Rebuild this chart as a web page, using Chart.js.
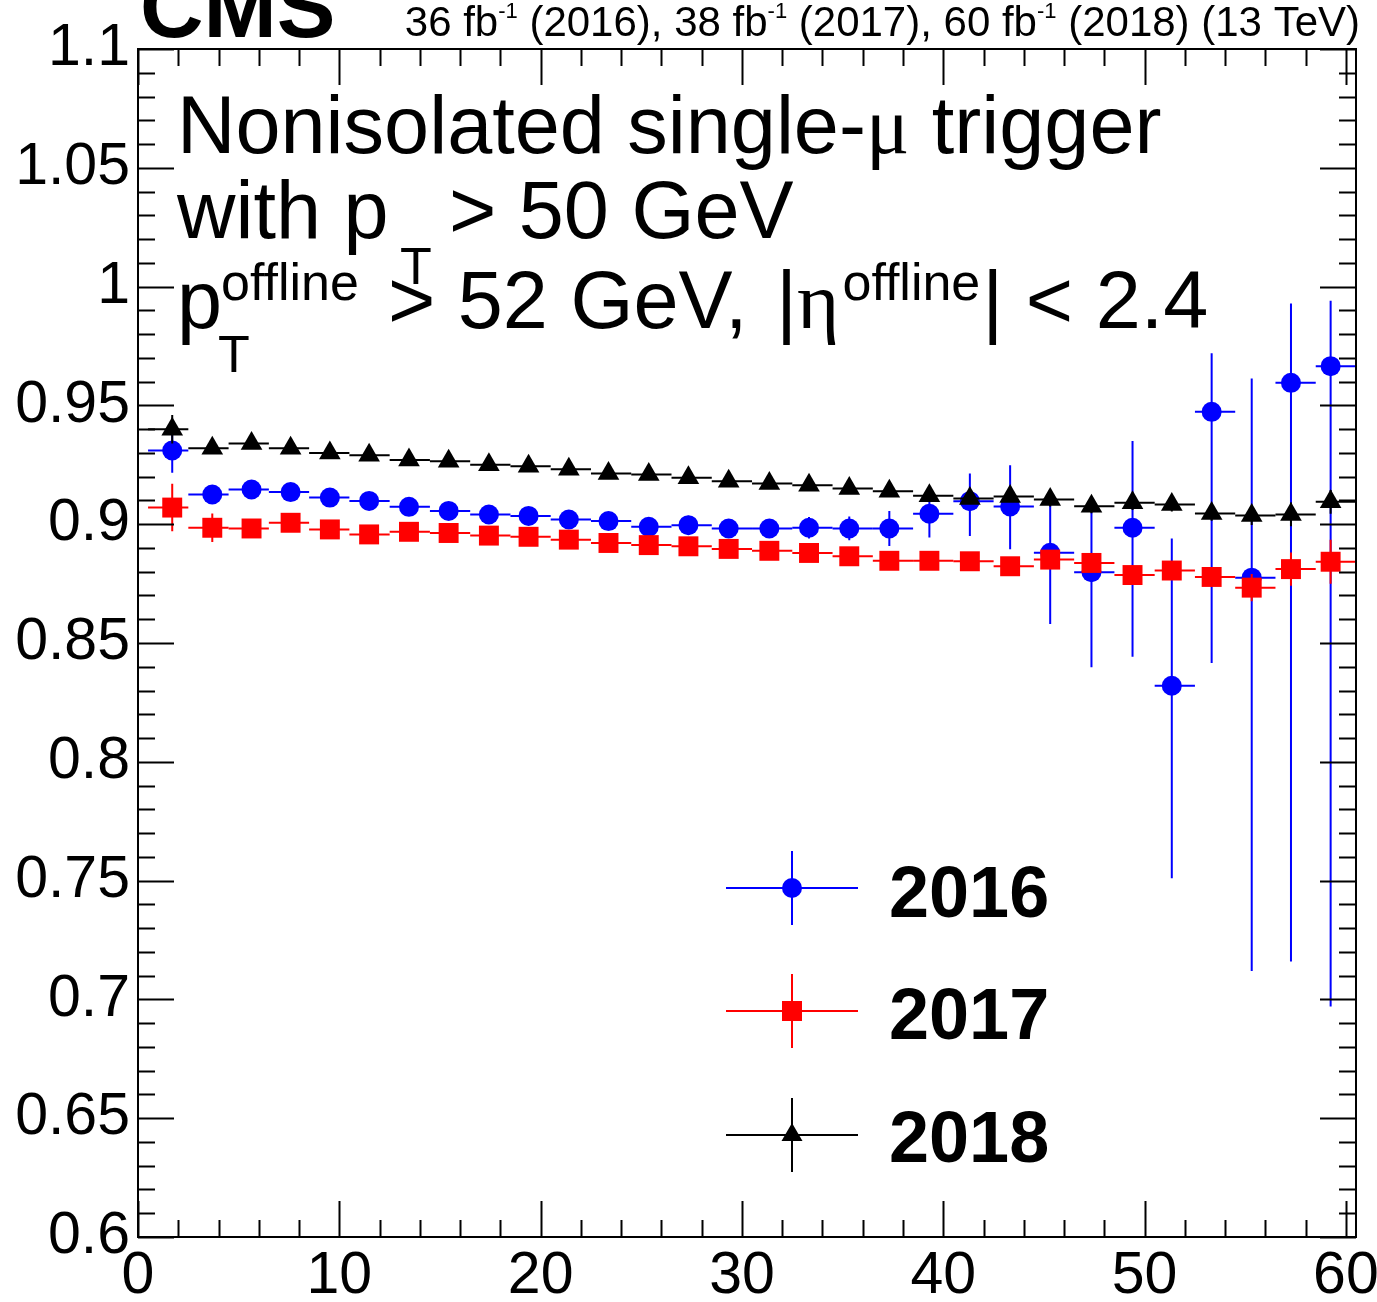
<!DOCTYPE html>
<html>
<head>
<meta charset="utf-8">
<script src="https://cdn.jsdelivr.net/npm/chart.js@4.4.1/dist/chart.umd.min.js"></script>
<style>
  html, body { margin: 0; padding: 0; background: #ffffff; }
  #wrap { width: 1377px; height: 1302px; }
</style>
</head>
<body>
<div id="wrap"><canvas id="chartCanvas" width="1377" height="1302"></canvas></div>
<script>
// bin edges (x axis) and the mean x of each bin, where the points sit
const binEdges = [0.5, 2.5, 4.5, 6.5, 8.5, 10.5, 12.5, 14.5, 16.5, 18.5, 20.5,
  22.5, 24.5, 26.5, 28.5, 30.5, 32.5, 34.5, 36.5, 38.5, 40.5,
  42.5, 44.5, 46.5, 48.5, 50.5, 52.5, 54.5, 56.5, 58.5, 60.5];
const binMeans = [1.7, 3.69, 5.64, 7.58, 9.53, 11.48, 13.46, 15.43, 17.43, 19.4,
  21.4, 23.37, 25.37, 27.34, 29.34, 31.36, 33.33, 35.33, 37.32, 39.31,
  41.32, 43.32, 45.31, 47.36, 49.4, 51.35, 53.33, 55.32, 57.27, 59.24];

// 2016
const eff2016 = [0.931, 0.9125, 0.9146, 0.9135, 0.9112, 0.9098, 0.9073, 0.9056, 0.9041, 0.9035,
  0.902, 0.9013, 0.8989, 0.8996, 0.8982, 0.8982, 0.8985, 0.8982, 0.8982, 0.9044,
  0.9097, 0.9075, 0.888, 0.8798, 0.8985, 0.832, 0.9473, 0.8775, 0.9595, 0.9665];
const err2016Up = [0.0093, 0.003, 0.003, 0.003, 0.003, 0.003, 0.003, 0.003, 0.003, 0.003,
  0.003, 0.0035, 0.0035, 0.004, 0.004, 0.004, 0.0045, 0.005, 0.0074, 0.01,
  0.0116, 0.0173, 0.022, 0.03, 0.0365, 0.062, 0.0247, 0.0838, 0.0334, 0.0275];
const err2016Down = [0.0093, 0.003, 0.003, 0.003, 0.003, 0.003, 0.003, 0.003, 0.003, 0.003,
  0.003, 0.0035, 0.0035, 0.004, 0.004, 0.004, 0.0045, 0.005, 0.0074, 0.01,
  0.0147, 0.018, 0.03, 0.04, 0.0543, 0.081, 0.1057, 0.1655, 0.2435, 0.2695];

// 2017
const eff2017 = [0.907, 0.8985, 0.8982, 0.9006, 0.8978, 0.8957, 0.8968, 0.8963, 0.8952, 0.8947,
  0.8935, 0.8921, 0.8912, 0.8907, 0.8896, 0.8888, 0.8879, 0.8865, 0.8846, 0.8846,
  0.8844, 0.8823, 0.8851, 0.8837, 0.8786, 0.8805, 0.8778, 0.8733, 0.8811, 0.8842];
const err2017 = [0.01, 0.006, 0.003, 0.003, 0.003, 0.003, 0.003, 0.003, 0.003, 0.003,
  0.003, 0.003, 0.003, 0.003, 0.003, 0.003, 0.003, 0.003, 0.003, 0.003,
  0.003, 0.003, 0.0035, 0.004, 0.004, 0.004, 0.004, 0.0057, 0.007, 0.0093];

// 2018
const eff2018 = [0.94, 0.932, 0.934, 0.932, 0.93, 0.929, 0.927, 0.9265, 0.925, 0.9244,
  0.9231, 0.9213, 0.9209, 0.9196, 0.9181, 0.9171, 0.9164, 0.915, 0.9139, 0.912,
  0.9108, 0.9117, 0.9104, 0.9076, 0.909, 0.9083, 0.9045, 0.9037, 0.9041, 0.9094];
const err2018 = [0.006, 0.002, 0.002, 0.002, 0.002, 0.002, 0.002, 0.002, 0.002, 0.002,
  0.002, 0.002, 0.002, 0.002, 0.002, 0.002, 0.002, 0.002, 0.002, 0.002,
  0.002, 0.002, 0.003, 0.003, 0.003, 0.003, 0.003, 0.004, 0.005, 0.005];

const FONT = '"Liberation Sans", Arial, Helvetica, sans-serif';
const SERIF = '"Liberation Serif", "Times New Roman", serif';

function makePoints(values, up, down) {
  return values.map((v, i) => ({
    x: binMeans[i],
    y: v,
    xLow: binEdges[i],
    xHigh: binEdges[i + 1],
    up: up[i],
    down: down[i],
  }));
}

// error bars drawn right before each dataset's markers
const errorBars = {
  id: "errorBars",
  beforeDatasetDraw(chart, args) {
    const ds = chart.data.datasets[args.index];
    const xs = chart.scales.x;
    const ys = chart.scales.y;
    const ctx = chart.ctx;
    ctx.save();
    ctx.strokeStyle = ds.errColor;
    ctx.lineWidth = 2;
    ds.data.forEach((p) => {
      const px = xs.getPixelForValue(p.x);
      const py = ys.getPixelForValue(p.y);
      ctx.beginPath();
      ctx.moveTo(xs.getPixelForValue(p.xLow), py);
      ctx.lineTo(xs.getPixelForValue(p.xHigh), py);
      ctx.moveTo(px, ys.getPixelForValue(p.y + p.up));
      ctx.lineTo(px, ys.getPixelForValue(p.y - p.down));
      ctx.stroke();
    });
    ctx.restore();
  },
};

// ROOT-like frame with ticks on all four sides, pointing inwards
const frameTicks = {
  id: "frameTicks",
  afterDatasetsDraw(chart) {
    const { ctx, chartArea: a } = chart;
    const xs = chart.scales.x;
    const ys = chart.scales.y;
    ctx.save();
    ctx.strokeStyle = "#000";
    ctx.lineWidth = 2;
    ctx.strokeRect(a.left, a.top, a.right - a.left, a.bottom - a.top);
    ctx.beginPath();
    for (let v = 0; v <= 60.001; v += 2) {
      const len = Math.abs(v % 10) < 0.001 ? 36 : 17;
      const px = Math.round(xs.getPixelForValue(v)) + 0.5;
      ctx.moveTo(px, a.bottom);
      ctx.lineTo(px, a.bottom - len);
      ctx.moveTo(px, a.top);
      ctx.lineTo(px, a.top + len);
    }
    for (let k = 60; k <= 110; k++) {
      const v = k / 100;
      const len = k % 5 === 0 ? 36 : 17;
      const py = Math.round(ys.getPixelForValue(v)) + 0.5;
      ctx.moveTo(a.left, py);
      ctx.lineTo(a.left + len, py);
      ctx.moveTo(a.right, py);
      ctx.lineTo(a.right - len, py);
    }
    ctx.stroke();
    ctx.restore();
  },
};

function drawRuns(ctx, runs) {
  let cx = 0;
  runs.forEach((r) => {
    ctx.font = `${r.bold ? "bold " : ""}${r.size}px ${r.family || FONT}`;
    const x = r.x !== undefined ? r.x : cx + (r.dx || 0);
    ctx.fillText(r.text, x, r.y);
    cx = x + ctx.measureText(r.text).width;
  });
}

function runsWidth(ctx, runs) {
  let w = 0;
  runs.forEach((r) => {
    ctx.font = `${r.bold ? "bold " : ""}${r.size}px ${r.family || FONT}`;
    w += ctx.measureText(r.text).width;
  });
  return w;
}

// texts and legend
const annotations = {
  id: "annotations",
  afterDraw(chart) {
    const ctx = chart.ctx;
    ctx.save();
    ctx.fillStyle = "#000";
    ctx.textBaseline = "alphabetic";
    ctx.textAlign = "left";

    // CMS label
    ctx.font = `bold 88px ${FONT}`;
    ctx.fillText("CMS", 140, 37);

    // luminosity label, right aligned
    const lumi = [
      { text: "36 fb", size: 42, y: 36 },
      { text: "-1", size: 22, y: 18 },
      { text: " (2016), 38 fb", size: 42, y: 36 },
      { text: "-1", size: 22, y: 18 },
      { text: " (2017), 60 fb", size: 42, y: 36 },
      { text: "-1", size: 22, y: 18 },
      { text: " (2018) (13 TeV)", size: 42, y: 36 },
    ];
    lumi[0].x = 1360 - runsWidth(ctx, lumi);
    drawRuns(ctx, lumi);

    // selection text
    drawRuns(ctx, [
      { text: "Nonisolated single-", x: 177, y: 153, size: 81 },
      { text: "\u03bc", y: 153, size: 81, family: SERIF },
      { text: " trigger", y: 153, size: 81 },
    ]);
    drawRuns(ctx, [
      { text: "with p", x: 177, y: 238, size: 81 },
      { text: "T", x: 400, y: 284, size: 52 },
      { text: "> 50 GeV", x: 449, y: 238, size: 81 },
    ]);
    drawRuns(ctx, [
      { text: "p", x: 177, y: 328, size: 81 },
      { text: "offline", x: 221, y: 300, size: 52 },
    ]);
    drawRuns(ctx, [{ text: "T", x: 218, y: 372, size: 52 }]);
    drawRuns(ctx, [
      { text: "> 52 GeV,", x: 388, y: 328, size: 81 },
      { text: " |", y: 328, size: 81, dx: 6 },
      { text: "\u03b7", y: 328, size: 81, family: SERIF },
      { text: "offline", y: 300, size: 52, dx: 3 },
      { text: "| < 2.4", y: 328, size: 81, dx: 2 },
    ]);

    // legend
    const entries = [
      { label: "2016", color: "#0000ff", style: "circle", y: 888, base: 917 },
      { label: "2017", color: "#ff0000", style: "rect", y: 1011, base: 1039 },
      { label: "2018", color: "#000000", style: "triangle", y: 1135, base: 1162 },
    ];
    const mx = 792;
    entries.forEach((e) => {
      ctx.strokeStyle = e.color;
      ctx.lineWidth = 2;
      ctx.beginPath();
      ctx.moveTo(726, e.y);
      ctx.lineTo(858, e.y);
      ctx.moveTo(mx, e.y - 37);
      ctx.lineTo(mx, e.y + 37);
      ctx.stroke();
      ctx.fillStyle = e.color;
      ctx.beginPath();
      if (e.style === "circle") {
        ctx.arc(mx, e.y, 10, 0, Math.PI * 2);
      } else if (e.style === "rect") {
        ctx.rect(mx - 10, e.y - 10, 20, 20);
      } else {
        ctx.moveTo(mx, e.y - 12);
        ctx.lineTo(mx + 10.5, e.y + 6);
        ctx.lineTo(mx - 10.5, e.y + 6);
        ctx.closePath();
      }
      ctx.fill();
      ctx.fillStyle = "#000";
      ctx.font = `bold 72px ${FONT}`;
      ctx.fillText(e.label, 889, e.base);
    });
    ctx.restore();
  },
};

const ctx = document.getElementById("chartCanvas").getContext("2d");

window.myChart = new Chart(ctx, {
  type: "scatter",
  data: {
    datasets: [
      {
        label: "2016",
        data: makePoints(eff2016, err2016Up, err2016Down),
        errColor: "#0000ff",
        pointStyle: "circle",
        pointRadius: 10,
        pointBackgroundColor: "#0000ff",
        pointBorderWidth: 0,
        order: 3,
      },
      {
        label: "2017",
        data: makePoints(eff2017, err2017, err2017),
        errColor: "#ff0000",
        pointStyle: "rect",
        pointRadius: 14.1,
        pointBackgroundColor: "#ff0000",
        pointBorderWidth: 0,
        order: 2,
      },
      {
        label: "2018",
        data: makePoints(eff2018, err2018, err2018),
        errColor: "#000000",
        pointStyle: "triangle",
        pointRadius: 12.5,
        pointBackgroundColor: "#000000",
        pointBorderWidth: 0,
        order: 1,
      },
    ],
  },
  options: {
    responsive: false,
    devicePixelRatio: 1,
    animation: false,
    events: [],
    layout: { padding: { top: 49, right: 21, left: 0, bottom: 0 } },
    plugins: {
      legend: { display: false },
      tooltip: { enabled: false },
    },
    scales: {
      x: {
        type: "linear",
        min: 0,
        max: 60.5,
        grid: { display: false, drawTicks: false, tickLength: 0 },
        border: { display: false },
        ticks: {
          stepSize: 10,
          includeBounds: false,
          autoSkip: false,
          maxRotation: 0,
          padding: 4,
          color: "#000",
          font: { family: FONT, size: 59 },
        },
        afterFit(scale) {
          scale.height = 65;
          scale.paddingLeft = 0;
          scale.paddingRight = 0;
        },
      },
      y: {
        type: "linear",
        min: 0.6,
        max: 1.1,
        grid: { display: false, drawTicks: false, tickLength: 0 },
        border: { display: false },
        ticks: {
          stepSize: 0.05,
          includeBounds: false,
          autoSkip: false,
          padding: 8,
          color: "#000",
          font: { family: FONT, size: 59 },
          callback: (v) => parseFloat(Number(v).toFixed(2)).toString(),
        },
        afterFit(scale) {
          scale.width = 138;
          scale.paddingTop = 0;
          scale.paddingBottom = 0;
        },
      },
    },
  },
  plugins: [errorBars, frameTicks, annotations],
});
</script>
</body>
</html>
